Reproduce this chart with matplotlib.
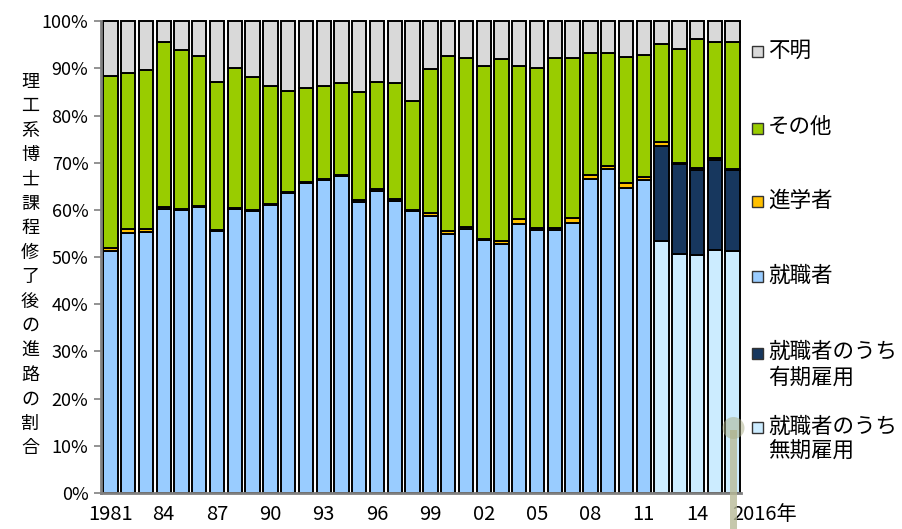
import numpy as np
import matplotlib.pyplot as plt
from matplotlib.patches import Rectangle, Ellipse

plt.rcParams['font.family'] = ['Noto Sans CJK JP', 'DejaVu Sans']

years = list(range(1981, 2017))
# percent values
emp = [51.3, 55.2, 55.3, 60.2, 59.9, 60.6, 55.5, 60.2, 59.7, 61.1,
       63.6, 65.6, 66.3, 67.2, 61.7, 64.0, 61.9, 59.8, 58.7, 54.8,
       55.9, 53.7, 52.8, 57.0, 55.8, 55.7, 57.3, 66.5, 68.6, 64.6,
       66.4, 0, 0, 0, 0, 0]
perm = [0]*31 + [53.5, 50.6, 50.4, 51.4, 51.2]
temp = [0]*31 + [20.1, 19.1, 18.0, 19.2, 17.2]
study = [0.6, 0.7, 0.6, 0.5, 0.2, 0.2, 0.3, 0.2, 0.2, 0.2,
         0.2, 0.3, 0.2, 0.2, 0.5, 0.5, 0.4, 0.2, 0.7, 0.8,
         0.4, 0.2, 0.7, 1.1, 0.3, 0.5, 1.0, 0.9, 0.7, 1.0,
         0.6, 0.8, 0.2, 0.5, 0.4, 0.2]
other = [36.5, 33.2, 33.7, 34.9, 33.7, 31.8, 31.3, 29.6, 28.2, 24.9,
         21.3, 20.0, 19.7, 19.6, 22.8, 22.6, 24.6, 23.1, 30.4, 37.0,
         35.9, 36.6, 38.4, 32.5, 33.9, 35.9, 33.9, 25.9, 24.0, 26.7,
         25.8, 20.8, 24.1, 27.3, 24.6, 26.9]
unknown = [11.6, 10.9, 10.4, 4.4, 6.2, 7.4, 12.9, 10.0, 11.9, 13.8,
           14.9, 14.1, 13.8, 13.0, 15.0, 12.9, 13.1, 16.9, 10.2, 7.4,
           7.8, 9.5, 8.1, 9.4, 10.0, 7.9, 7.8, 6.7, 6.7, 7.7,
           7.2, 4.8, 6.0, 3.8, 4.4, 4.5]

tick_years = [1981, 1984, 1987, 1990, 1993, 1996, 1999, 2002, 2005, 2008, 2011, 2014, 2016]
tick_labels = ['1981', '84', '87', '90', '93', '96', '99', '02', '05', '08', '11', '14', '2016年']

series = [
    (perm, '#CCECFF', '就職者のうち\n無期雇用'),
    (temp, '#17375E', '就職者のうち\n有期雇用'),
    (emp, '#99CCFF', '就職者'),
    (study, '#FFC000', '進学者'),
    (other, '#99CC00', 'その他'),
    (unknown, '#D9D9D9', '不明'),
]

fig = plt.figure(figsize=(9.03, 5.29), dpi=100)
ax = fig.add_axes([0.1118, 0.068, 0.7088, 0.892])

x = np.arange(len(years))
bottom = np.zeros(len(years))
for vals, col, lab in series:
    v = np.array(vals, dtype=float)
    ax.bar(x, v, 0.81, bottom=bottom, color=col, edgecolor='black',
           linewidth=1.4, clip_on=False, zorder=2)
    bottom += v

ax.set_xlim(-0.53, 35.47)
ax.set_ylim(0, 100)
ax.set_yticks(np.arange(0, 101, 10))
ax.set_yticklabels([f'{v}%' for v in range(0, 101, 10)], fontsize=13)
ax.tick_params(axis='y', direction='out', length=5, color='#808080', width=1.2, pad=4)
ax.set_xticks([years.index(y) for y in tick_years])
ax.set_xticklabels(tick_labels, fontsize=14.5)
ax.tick_params(axis='x', length=0, pad=8)
lbls = ax.get_xticklabels()
lbls[-1].set_horizontalalignment('left')
for s in ['top', 'right']:
    ax.spines[s].set_visible(False)
for s in ['left', 'bottom']:
    ax.spines[s].set_color('#808080')
    ax.spines[s].set_linewidth(2)

# vertical y label, one character per line
ylab = '理工系博士課程修了後の進路の割合'
fig.text(30/903, 1 - 265/529, '\n'.join(ylab), ha='center', va='center',
         fontsize=13, linespacing=1.46)

# legend drawn by hand on the right
leg = [('不明', '#D9D9D9', 51.7), ('その他', '#99CC00', 128),
       ('進学者', '#FFC000', 201.7), ('就職者', '#99CCFF', 276.7),
       ('就職者のうち\n有期雇用', '#17375E', 353), ('就職者のうち\n無期雇用', '#CCECFF', 427.7)]
for txt, col, yc in leg:
    fig.add_artist(Rectangle((752/903, 1 - (yc + 5.5)/529), 11/903, 11/529,
                             transform=fig.transFigure, facecolor=col,
                             edgecolor='#333333', linewidth=1))
    fig.text(768/903, 1 - (yc - 12)/529, txt, ha='left', va='top', fontsize=15.5,
             linespacing=1.2)

# odd greenish marker near the last bar
plt.rcParams['hatch.color'] = '#8c9070'
fig.add_artist(Rectangle((730/903, 0), 7/903, 1 - 430/529, transform=fig.transFigure,
                         facecolor='#b8bb98', alpha=0.8, edgecolor='none', hatch='....'))
fig.add_artist(Ellipse((733.5/903, 1 - 428/529), 22/903, 22/529, transform=fig.transFigure,
                       facecolor='#a9ad85', alpha=0.5, edgecolor='none'))

fig.savefig('out.png', dpi=100)
